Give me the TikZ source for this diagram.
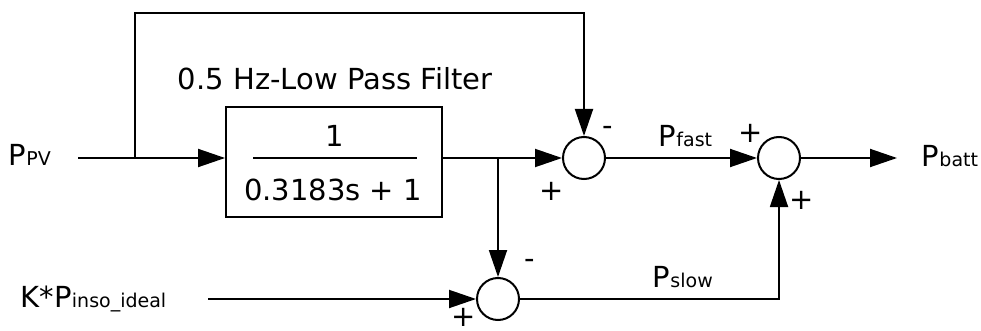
\documentclass[tikz,border=0pt]{standalone}
\usepackage{fontspec}
\setmainfont{DejaVu Sans}
\usetikzlibrary{arrows.meta}
\newcommand{\mysub}[1]{{\fontsize{19}{21}\selectfont #1}}
\begin{document}
\begin{tikzpicture}[x=1pt,y=-1pt,
  line width=1.9pt,
  arr/.style={-{Triangle[length=27pt,width=18pt]}},
  sumnode/.style={circle,draw,line width=2pt,minimum size=42pt,inner sep=0pt},
  lbl/.style={font=\fontsize{29}{31}\selectfont,inner sep=0pt}]
\useasboundingbox (0,0) rectangle (981,331);
% labels
\node[lbl,anchor=base west] (ppv) at (8,165) {P\mysub{PV}};
\node[lbl,anchor=base west] (kin) at (20,307) {K*P\mysub{inso\_ideal}};
\node[lbl,anchor=base west] (pbatt) at (921,166) {P\mysub{batt}};
\node[lbl,anchor=base west] (title) at (177,90) {0.5 Hz-Low Pass Filter};
% coordinates
\coordinate (inp) at (78,158);
\coordinate (split) at (135,158);
\coordinate (topl) at (135,13);
\coordinate (kst) at (208,299);
\coordinate (jn) at (498,158);
\coordinate (out) at (897,158);
% block
\node[draw,line width=1.9pt,minimum width=216pt,minimum height=110pt,inner sep=0pt] (box) at (334,162) {};
\node[lbl,anchor=base] (num) at (335,147) {1};
\node[lbl,anchor=base] (den) at (333,200) {0.3183s + 1};
\draw (253,158) -- (417,158);
% sums
\node[sumnode] (s1) at (584,158) {};
\node[sumnode] (s2) at (498,299) {};
\node[sumnode] (s3) at (779,158) {};
% connectors
\draw (inp) -- (split);
\draw[arr] (split) -- (box.west |- split);
\draw[arr] (split) -- (topl) -| (s1.north);
\draw[arr] (box.east |- s1) -- (s1.west);
\draw[arr] (jn) -- (s2.north);
\draw[arr] (kst) -- (s2.west);
\draw[arr] (s1.east) -- (s3.west);
\draw[arr] (s3.east) -- (out);
\draw[arr] (s2.east) -| (s3.south);
% signs and signal names
\node[lbl] (m1) at (608,131) {-};
\node[lbl] (p1) at (552,191) {+};
\node[lbl] (p3a) at (751,133) {+};
\node[lbl] (p3b) at (802,200) {+};
\node[lbl] (m2) at (530,264) {-};
\node[lbl] (p2) at (464,317) {+};
\node[lbl,anchor=base west] (pfast) at (658,147) {P\mysub{fast}};
\node[lbl,anchor=base west] (pslow) at (652,287) {P\mysub{slow}};
\end{tikzpicture}
\end{document}
